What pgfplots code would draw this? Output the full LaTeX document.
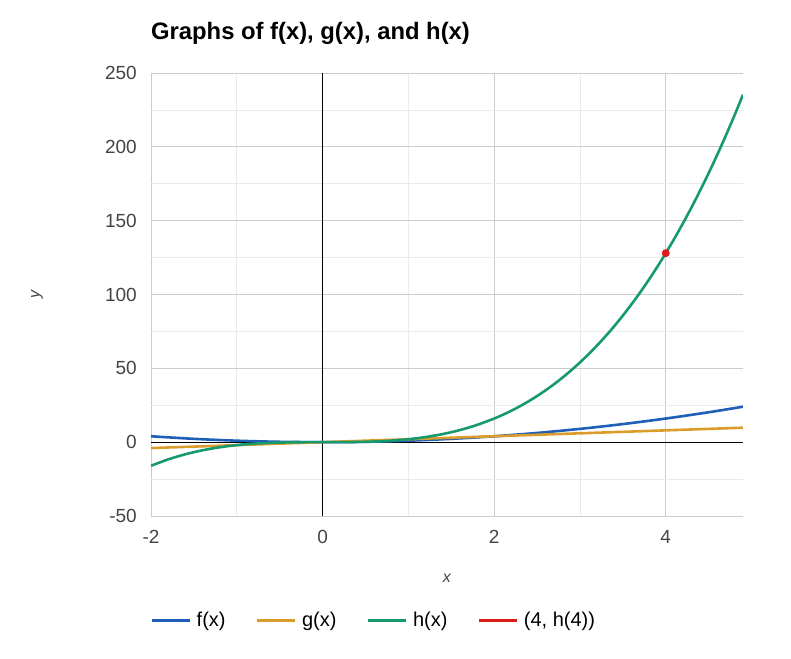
\documentclass[border=0pt]{standalone}
\usepackage{fontspec}
\setmainfont{Liberation Sans}
\usepackage{pgfplots}
\pgfplotsset{compat=1.18}
\definecolor{fblue}{HTML}{1F5FB8}
\definecolor{gorange}{HTML}{DC9C2C}
\definecolor{hgreen}{HTML}{17996E}
\definecolor{pred}{HTML}{DD1C1C}
\definecolor{ticktext}{HTML}{444444}
\definecolor{majgrid}{HTML}{CCCCCC}
\definecolor{mingrid}{HTML}{EBEBEB}
\begin{document}
\begin{tikzpicture}
\useasboundingbox (-151pt,-142pt) rectangle (640pt,516pt);
\begin{axis}[
  at={(0,0)}, anchor=south west,
  scale only axis, width=592pt, height=443pt,
  xmin=-2, xmax=4.9, ymin=-50, ymax=250,
  xtick={-2,0,2,4}, ytick={-50,0,50,100,150,200,250},
  minor x tick num=1, minor y tick num=1,
  grid=both,
  major grid style={majgrid, line width=0.8pt},
  minor grid style={mingrid, line width=0.8pt},
  axis line style={draw=none},
  major tick length=0pt, minor tick length=0pt,
  /pgf/number format/assume math mode=true,
  tick label style={font=\fontsize{19}{22}\selectfont, text=ticktext},
  xticklabel style={inner sep=0pt, anchor=north, yshift=-14pt},
  yticklabel style={inner sep=0pt, anchor=east, xshift=-14pt},
  extra x ticks={0}, extra y ticks={0},
  extra x tick labels={}, extra y tick labels={},
  extra tick style={grid=major, major grid style={black, line width=0.8pt}},
  xlabel={\itshape x}, ylabel={\itshape y},
  label style={font=\fontsize{16}{19}\selectfont, text=ticktext},
  xlabel style={at={(axis description cs:0.5,0)}, anchor=center, yshift=-62pt},
  ylabel style={at={(axis description cs:0,0.5)}, anchor=center, yshift=114pt},
  title={Graphs of f(x), g(x), and h(x)},
  title style={at={(axis description cs:0,1)}, anchor=west, inner sep=0pt, yshift=34pt, font=\bfseries\fontsize{23.8}{27}\selectfont},
  legend columns=4,
  legend style={draw=none, at={(axis description cs:0,0)}, anchor=west, xshift=-1pt, yshift=-104pt,
    font=\fontsize{20}{23}\selectfont, inner sep=0pt,
    nodes={inner xsep=5.5pt, inner ysep=0pt},
    /tikz/every even column/.append style={column sep=24.5pt}},
  legend image code/.code={\draw[#1, line width=3pt] (0pt,0pt) -- (38pt,0pt);},
  every axis plot/.append style={line width=2.6pt},
]
\addplot[fblue, smooth] coordinates {
(-2,4) (-1.5,2.25) (-1,1) (-0.5,0.25) (0,0) (0.5,0.25) (1,1) (1.5,2.25) (2,4) (2.5,6.25) (3,9) (3.5,12.25) (4,16) (4.5,20.25) (4.9,24.01)};
\addlegendentry{f(x)}
\addplot[gorange] coordinates {(-2,-4) (4.9,9.8)};
\addlegendentry{g(x)}
\addplot[hgreen, smooth] coordinates {
(-2,-16) (-1.8,-11.664) (-1.6,-8.192) (-1.4,-5.488) (-1.2,-3.456) (-1,-2) (-0.8,-1.024) (-0.6,-0.432) (-0.4,-0.128) (-0.2,-0.016) (0,0)
(0.2,0.016) (0.4,0.128) (0.6,0.432) (0.8,1.024) (1,2) (1.2,3.456) (1.4,5.488) (1.6,8.192) (1.8,11.664) (2,16)
(2.1,18.522) (2.2,21.296) (2.3,24.334) (2.4,27.648) (2.5,31.25) (2.6,35.152) (2.7,39.366) (2.8,43.904) (2.9,48.778) (3,54)
(3.1,59.582) (3.2,65.536) (3.3,71.874) (3.4,78.608) (3.5,85.75) (3.6,93.312) (3.7,101.306) (3.8,109.744) (3.9,118.638) (4,128)
(4.1,137.842) (4.2,148.176) (4.3,159.014) (4.4,170.368) (4.5,182.25) (4.6,194.672) (4.7,207.646) (4.8,221.184) (4.9,235.298)};
\addlegendentry{h(x)}
\addlegendimage{pred}
\addlegendentry{(4, h(4))}
\addplot[pred, only marks, mark=*, mark size=2.6pt, forget plot] coordinates {(4,128)};
\end{axis}
\end{tikzpicture}
\end{document}
